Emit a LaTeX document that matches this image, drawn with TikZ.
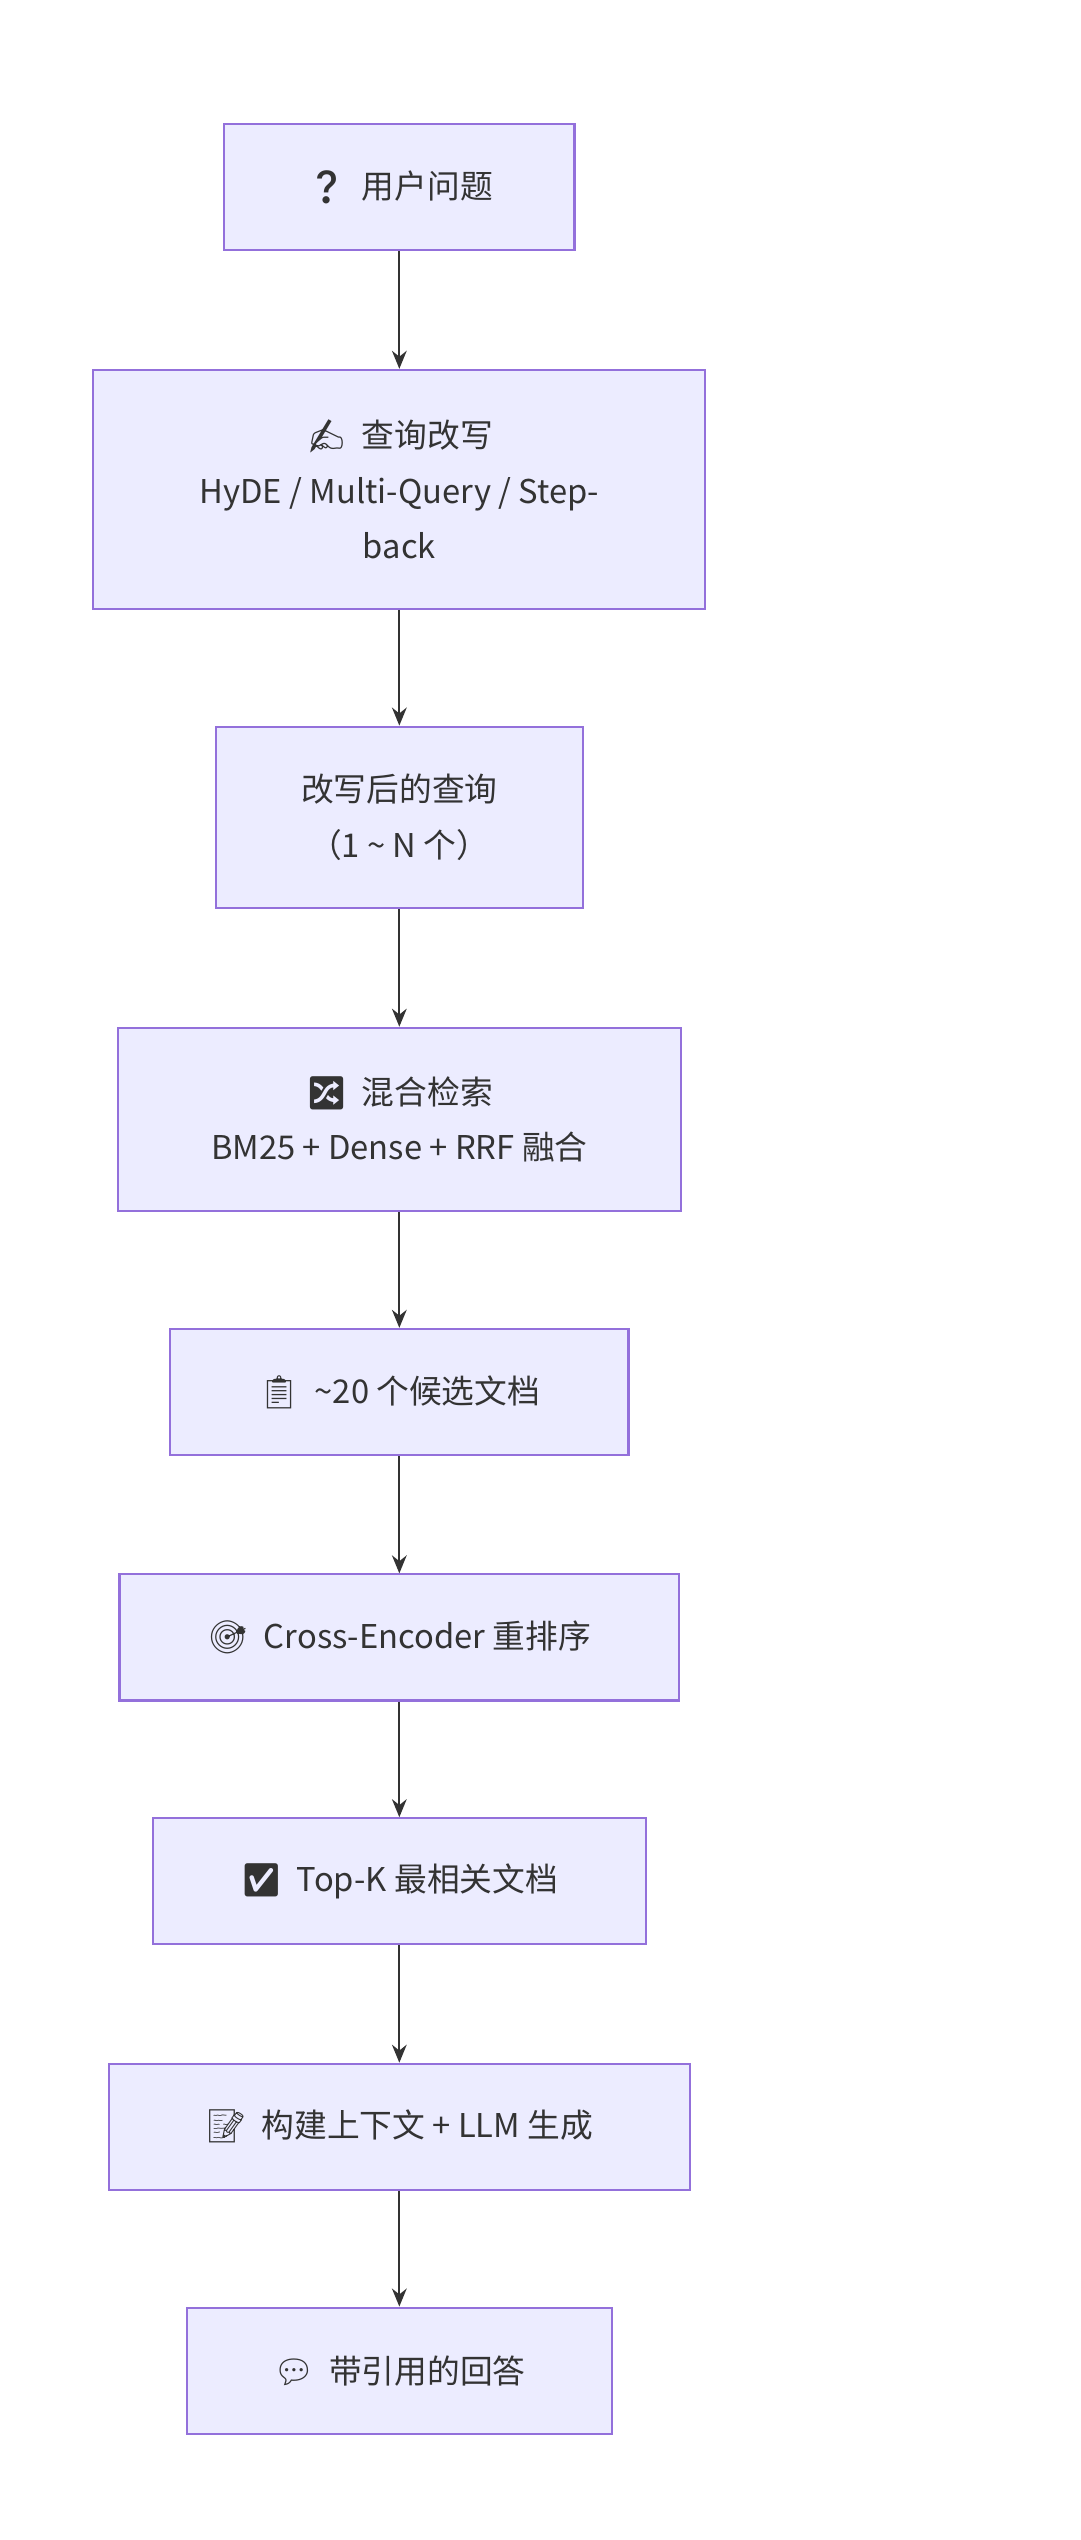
\documentclass[tikz,border=0pt]{standalone}
\usepackage{fontspec}
\setmainfont{Noto Sans CJK SC}
\newfontfamily\emo{Noto Emoji}
\usetikzlibrary{arrows.meta}
\definecolor{boxfill}{HTML}{ECECFF}
\definecolor{boxline}{HTML}{9370DB}
\definecolor{arrowc}{HTML}{333333}
\tikzset{
  flowbox/.style={draw=boxline, fill=boxfill, line width=1.3pt, align=center,
    inner sep=0pt, font=\fontsize{20}{34}\selectfont, text=arrowc},
  flowarrow/.style={draw=arrowc, line width=1.3pt, -{Stealth[length=11pt,width=9pt]}}
}
\begin{document}
\begin{tikzpicture}[x=1pt,y=-1pt]
  \useasboundingbox (0,0) rectangle (660,1552);
  % boxes
  \node[flowbox, minimum width=214pt, minimum height=77pt] (ask) at (244,114.5) {{\emo ❓}\ \ 用户问题};
  \node[flowbox, minimum width=374pt, minimum height=146pt] (rewrite) at (244,299) {{\emo ✍}\ \ 查询改写\\HyDE / Multi-Query / Step-\\back};
  \node[flowbox, minimum width=224pt, minimum height=111pt] (queries) at (244,499.5) {改写后的查询\\（1 \textasciitilde{} N 个）};
  \node[flowbox, minimum width=344pt, minimum height=112pt] (hybrid) at (244,684) {{\emo 🔀}\ \ 混合检索\\BM25 + Dense + RRF 融合};
  \node[flowbox, minimum width=280pt, minimum height=77pt] (cands) at (244,850.5) {{\emo 📋}\ \ \textasciitilde20 个候选文档};
  \node[flowbox, minimum width=342pt, minimum height=77pt] (rerank) at (244,1000.5) {{\emo 🎯}\ \ Cross-Encoder 重排序};
  \node[flowbox, minimum width=301pt, minimum height=77pt] (topk) at (244,1149.5) {{\emo ✅}\ \ Top-K 最相关文档};
  \node[flowbox, minimum width=355pt, minimum height=77pt] (gen) at (244,1299.5) {{\emo 📝}\ \ 构建上下文 + LLM 生成};
  \node[flowbox, minimum width=260pt, minimum height=77pt] (answer) at (244,1448.5) {{\emo 💬}\ \ 带引用的回答};
  % arrows
  \foreach \a/\b in {ask/rewrite, rewrite/queries, queries/hybrid, hybrid/cands, cands/rerank, rerank/topk, topk/gen, gen/answer}
    \draw[flowarrow] (\a) -- (\b);
\end{tikzpicture}
\end{document}
